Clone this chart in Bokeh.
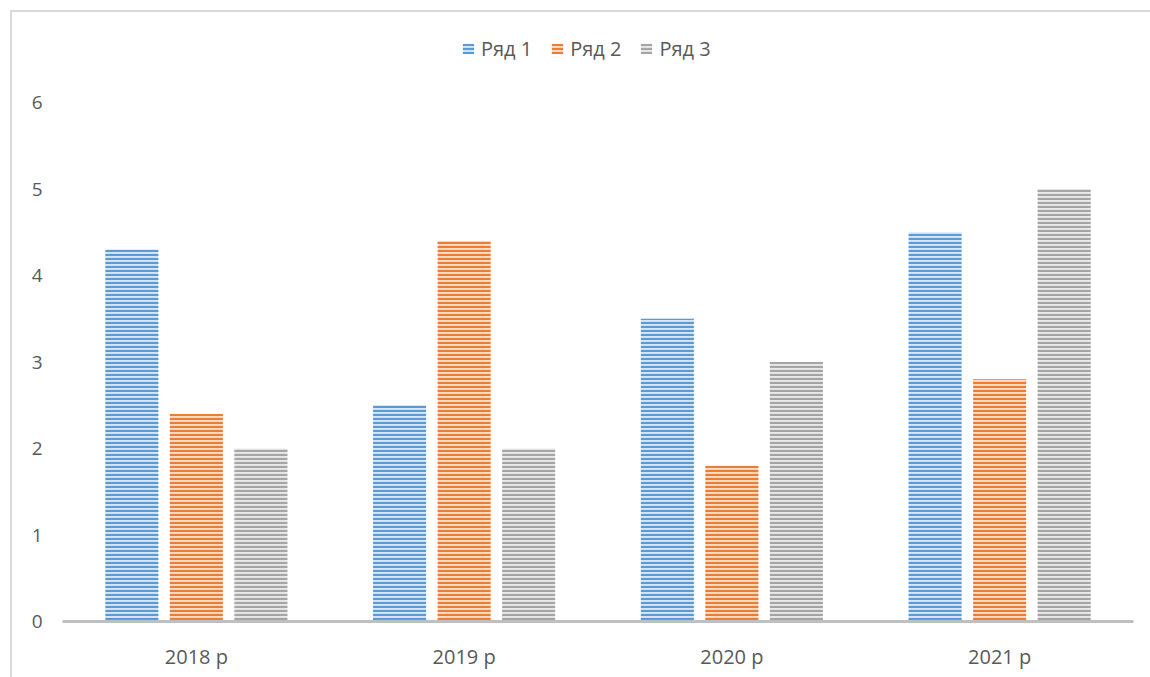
from bokeh.plotting import figure
from bokeh.models import FactorRange, Range1d, Legend, LegendItem, FixedTicker
from bokeh.transform import dodge
from bokeh.embed import file_html
from bokeh.resources import INLINE

categories = ["2018 р", "2019 р", "2020 р", "2021 р"]
series_names = ["Ряд 1", "Ряд 2", "Ряд 3"]
row1 = [4.3, 2.5, 3.5, 4.5]
row2 = [2.4, 4.4, 1.8, 2.8]
row3 = [2.0, 2.0, 3.0, 5.0]
y_ticks = [0, 1, 2, 3, 4, 5, 6]

main_colors = ["#5b9bd5", "#ed7d31", "#a5a5a5"]
pale_colors = ["#d6e6f5", "#fbdcc8", "#e8e8e8"]
offsets = [-0.241, 0.0, 0.241]

FONT = "Open Sans"
TXT = "#595959"

# frame extends above the top tick so the legend can sit inside it
p = figure(x_range=FactorRange(*categories, range_padding=0), y_range=Range1d(0, 6.948),
           frame_width=1071, frame_height=601, output_backend="svg", toolbar_location=None,
           min_border_left=62, min_border_right=17, min_border_top=20, min_border_bottom=56)
p.border_fill_color = None
p.background_fill_color = None
p.outline_line_color = None
p.styles = {
    "background": "linear-gradient(#d9d9d9,#d9d9d9) 10px 10px / 2px calc(100% - 10px) no-repeat, "
                  "linear-gradient(#d9d9d9,#d9d9d9) 10px 10px / calc(100% - 10px) 2px no-repeat, white"
}

data = dict(cat=categories, r1=row1, r2=row2, r3=row3)
cols = ["r1", "r2", "r3"]
renderers = []
for i, c in enumerate(cols):
    r = p.vbar(x=dodge("cat", offsets[i], range=p.x_range), top=c, width=0.198, source=data,
               fill_color=pale_colors[i], line_color=None,
               hatch_pattern="horizontal_line", hatch_color=main_colors[i],
               hatch_scale=4, hatch_weight=2.2)
    renderers.append(r)

p.xgrid.grid_line_color = None
p.ygrid.grid_line_color = None

p.yaxis.ticker = FixedTicker(ticks=y_ticks)
p.yaxis.axis_line_color = None
p.yaxis.major_tick_line_color = None
p.yaxis.minor_tick_line_color = None
p.yaxis.major_label_standoff = 14
p.yaxis.major_label_text_font = FONT
p.yaxis.major_label_text_font_size = "19px"
p.yaxis.major_label_text_color = TXT

p.xaxis.axis_line_color = "#bfbfbf"
p.xaxis.axis_line_width = 3
p.xaxis.major_tick_line_color = None
p.xaxis.minor_tick_line_color = None
p.xaxis.major_label_standoff = 15
p.xaxis.major_label_text_font = FONT
p.xaxis.major_label_text_font_size = "20px"
p.xaxis.major_label_text_color = TXT

legend = Legend(items=[LegendItem(label=series_names[i], renderers=[renderers[i]]) for i in range(3)],
                orientation="horizontal", location=(399, 559), padding=0, margin=0,
                spacing=18, glyph_width=14, glyph_height=13, label_standoff=6,
                label_text_font=FONT, label_text_font_size="20px", label_text_color=TXT,
                border_line_color=None, background_fill_color=None, background_fill_alpha=0)
p.add_layout(legend, "center")

open("out.html", "w").write(file_html(p, INLINE))
